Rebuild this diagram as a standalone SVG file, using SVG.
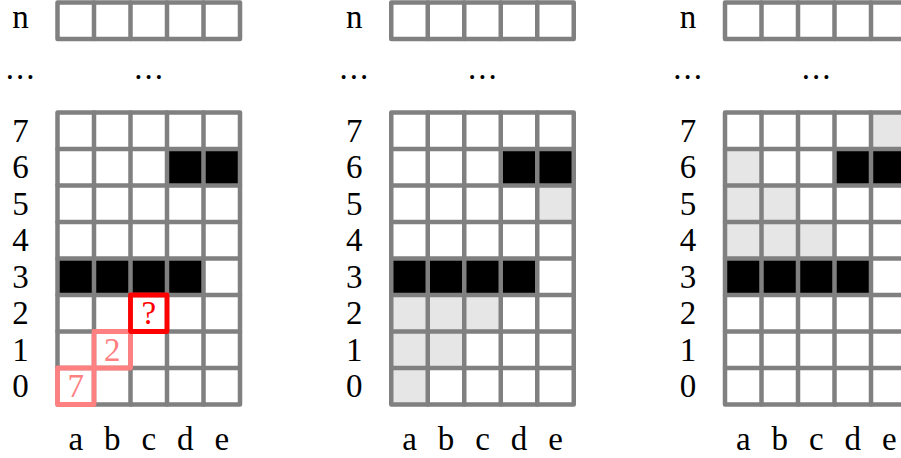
<svg xmlns="http://www.w3.org/2000/svg" xmlns:xlink="http://www.w3.org/1999/xlink" width="901" height="458" viewBox="0 0 901 458">
<style>
  .grid { fill: none; stroke: #808080; stroke-width: 4.5; stroke-linejoin: round; stroke-linecap: round; }
  .lbl { font-family: "Liberation Serif", "Times New Roman", serif; font-size: 33px; fill: #000; text-anchor: middle; }
  .dots { letter-spacing: 2px; }
  .blk { fill: #000; }
  .gry { fill: #e6e6e6; }
  .hl-red { fill: none; stroke: #ff0000; stroke-width: 4.8; stroke-linejoin: round; }
  .hl-pink { fill: none; stroke: #ff8080; stroke-width: 4.8; stroke-linejoin: round; }
  .t-red { fill: #ff0000; }
  .t-pink { fill: #ff8080; }
</style>
<defs>
  <g id="gridlines">
    <rect class="grid" x="57.5" y="2.5" width="182.5" height="36.5"/>
    <path class="grid" d="M94 2.5V39M130.5 2.5V39M167 2.5V39M203.5 2.5V39"/>
    <rect class="grid" x="57.5" y="112.5" width="182.5" height="292"/>
    <path class="grid" d="M94 112.5V404.5M130.5 112.5V404.5M167 112.5V404.5M203.5 112.5V404.5M57.5 149H240M57.5 185.5H240M57.5 222H240M57.5 258.5H240M57.5 295H240M57.5 331.5H240M57.5 368H240"/>
  </g>
  <g id="labels">
    <text class="lbl" x="20.5" y="28.3">n</text>
    <text class="lbl dots" x="21" y="79">...</text>
    <text class="lbl dots" x="149.5" y="79">...</text>
    <text class="lbl" x="20.5" y="141.75">7</text>
    <text class="lbl" x="20.5" y="178.25">6</text>
    <text class="lbl" x="20.5" y="214.75">5</text>
    <text class="lbl" x="20.5" y="251.25">4</text>
    <text class="lbl" x="20.5" y="287.75">3</text>
    <text class="lbl" x="20.5" y="324.25">2</text>
    <text class="lbl" x="20.5" y="360.75">1</text>
    <text class="lbl" x="20.5" y="397.25">0</text>
    <text class="lbl" x="75.75" y="450">a</text>
    <text class="lbl" x="112.25" y="450">b</text>
    <text class="lbl" x="148.75" y="450">c</text>
    <text class="lbl" x="185.25" y="450">d</text>
    <text class="lbl" x="221.75" y="450">e</text>
  </g>
  <g id="walls">
    <rect class="blk" x="167" y="149" width="36.5" height="36.5"/>
    <rect class="blk" x="203.5" y="149" width="36.5" height="36.5"/>
    <rect class="blk" x="57.5" y="258.5" width="36.5" height="36.5"/>
    <rect class="blk" x="94" y="258.5" width="36.5" height="36.5"/>
    <rect class="blk" x="130.5" y="258.5" width="36.5" height="36.5"/>
    <rect class="blk" x="167" y="258.5" width="36.5" height="36.5"/>
  </g>
</defs>

<g id="panel1">
  <use xlink:href="#walls"/>
  <use xlink:href="#gridlines"/>
  <use xlink:href="#labels"/>
  <rect class="hl-pink" x="57.5" y="368" width="36.5" height="36.5"/>
  <rect class="hl-pink" x="94" y="331.5" width="36.5" height="36.5"/>
  <rect class="hl-red" x="130.5" y="295" width="36.5" height="36.5"/>
  <text class="lbl t-pink" x="75.75" y="397.25">7</text>
  <text class="lbl t-pink" x="112.25" y="360.75">2</text>
  <text class="lbl t-red" x="148.75" y="324.25">?</text>
</g>

<g id="panel2" transform="translate(333.75 0)">
  <rect class="gry" x="203.5" y="185.5" width="36.5" height="36.5"/>
  <rect class="gry" x="57.5" y="295" width="36.5" height="36.5"/>
  <rect class="gry" x="94" y="295" width="36.5" height="36.5"/>
  <rect class="gry" x="130.5" y="295" width="36.5" height="36.5"/>
  <rect class="gry" x="57.5" y="331.5" width="36.5" height="36.5"/>
  <rect class="gry" x="94" y="331.5" width="36.5" height="36.5"/>
  <rect class="gry" x="57.5" y="368" width="36.5" height="36.5"/>
  <use xlink:href="#walls"/>
  <use xlink:href="#gridlines"/>
  <use xlink:href="#labels"/>
</g>

<g id="panel3" transform="translate(667.5 0)">
  <rect class="gry" x="203.5" y="112.5" width="36.5" height="36.5"/>
  <rect class="gry" x="57.5" y="149" width="36.5" height="36.5"/>
  <rect class="gry" x="57.5" y="185.5" width="36.5" height="36.5"/>
  <rect class="gry" x="94" y="185.5" width="36.5" height="36.5"/>
  <rect class="gry" x="57.5" y="222" width="36.5" height="36.5"/>
  <rect class="gry" x="94" y="222" width="36.5" height="36.5"/>
  <rect class="gry" x="130.5" y="222" width="36.5" height="36.5"/>
  <use xlink:href="#walls"/>
  <use xlink:href="#gridlines"/>
  <use xlink:href="#labels"/>
</g>
</svg>
